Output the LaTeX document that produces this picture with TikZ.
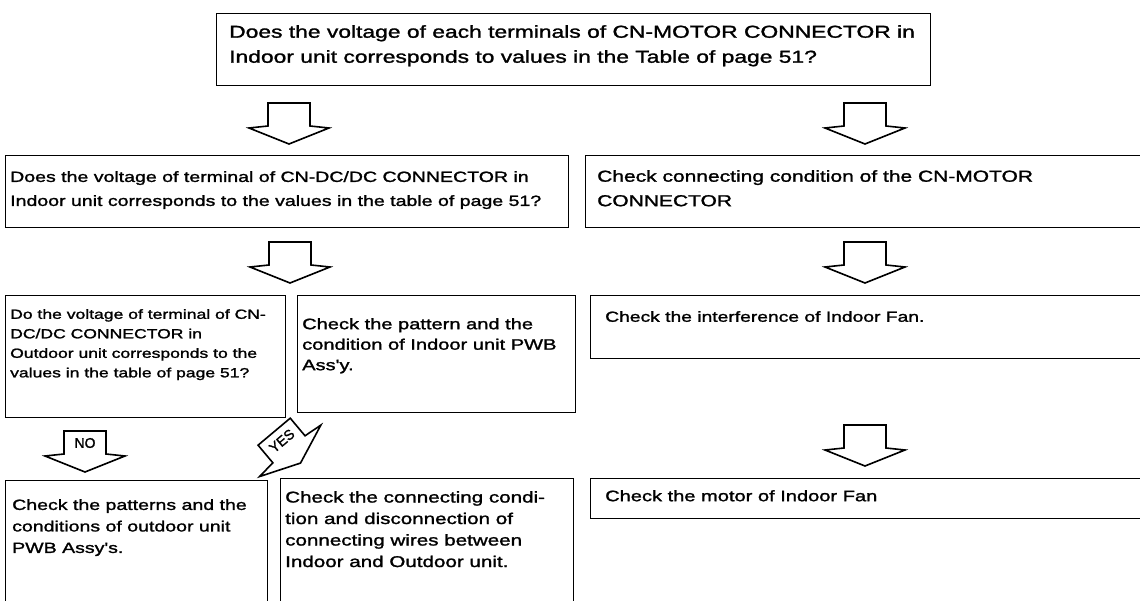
\documentclass[tikz,border=0pt]{standalone}
\usepackage{fontspec}
\setmainfont{Liberation Sans}
\newfontfamily\scanfont[FakeBold=1.5, FakeStretch=1.32]{Liberation Sans}
\newfontfamily\lblfont[FakeBold=1.5]{Liberation Sans}
\newcommand{\blockarrowpath}{(-21,-20) -- (21,-20) -- (21,3) -- (40,5) -- (0,21) -- (-40,5) -- (-21,3) -- cycle}
\begin{document}
\begin{tikzpicture}[x=1pt,y=-1pt,
  frame/.style={draw=black, line width=1.4pt, rectangle, inner sep=0pt, anchor=north west},
  txt/.style={anchor=north west, inner sep=0pt, align=left},
  arrline/.style={draw=black, line width=1.6pt, line join=miter},
  lbl/.style={inner sep=0pt, font={\lblfont\fontsize{14pt}{16pt}\selectfont}}
]
\useasboundingbox (0,0) rectangle (1140,601);
\begin{scope}
\clip (0,0) rectangle (1140,601);
% boxes
\node[frame, minimum width=714pt, minimum height=72pt] (T) at (216,13) {};
\node[frame, minimum width=563pt, minimum height=72pt] (L2) at (5,155) {};
\node[frame, minimum width=570pt, minimum height=72pt] (R2) at (585,155) {};
\node[frame, minimum width=280pt, minimum height=122pt] (L3a) at (5,295) {};
\node[frame, minimum width=278pt, minimum height=117pt] (L3b) at (297,295) {};
\node[frame, minimum width=565pt, minimum height=63pt] (R3) at (590,295) {};
\node[frame, minimum width=262pt, minimum height=140pt] (L4a) at (5,480) {};
\node[frame, minimum width=293pt, minimum height=140pt] (L4b) at (280,478) {};
\node[frame, minimum width=565pt, minimum height=40pt] (R4) at (590,478) {};
% texts
\node[txt, font={\scanfont\fontsize{17.3pt}{25pt}\selectfont}] (Tt) at (229,25)
  {Does the voltage of each terminals of CN-MOTOR CONNECTOR in\\Indoor unit corresponds to values in the Table of page 51?};
\node[txt, font={\scanfont\fontsize{14.8pt}{24pt}\selectfont}] (L2t) at (10,171)
  {Does the voltage of terminal of CN-DC/DC CONNECTOR in\\Indoor unit corresponds to the values in the table of page 51?};
\node[txt, font={\scanfont\fontsize{15.9pt}{24.5pt}\selectfont}] (R2t) at (597,170)
  {Check connecting condition of the CN-MOTOR\\CONNECTOR};
\node[txt, font={\scanfont\fontsize{13.3pt}{19.5pt}\selectfont}] (L3at) at (10,309)
  {Do the voltage of terminal of CN-\\DC/DC CONNECTOR in\\Outdoor unit corresponds to the\\values in the table of page 51?};
\node[txt, font={\scanfont\fontsize{15.2pt}{20.5pt}\selectfont}] (L3bt) at (302,318)
  {Check the pattern and the\\condition of Indoor unit PWB\\Ass'y.};
\node[txt, font={\scanfont\fontsize{14.6pt}{21pt}\selectfont}] (R3t) at (605,311)
  {Check the interference of Indoor Fan.};
\node[txt, font={\scanfont\fontsize{14.8pt}{21.5pt}\selectfont}] (L4at) at (12,499)
  {Check the patterns and the\\conditions of outdoor unit\\PWB Assy's.};
\node[txt, font={\scanfont\fontsize{15.6pt}{21.5pt}\selectfont}] (L4bt) at (285,491)
  {Check the connecting condi-\\tion and disconnection of\\connecting wires between\\Indoor and Outdoor unit.};
\node[txt, font={\scanfont\fontsize{15.2pt}{22pt}\selectfont}] (R4t) at (605,490)
  {Check the motor of Indoor Fan};
% block arrows
\begin{scope}[shift={(289,123)}] \draw[arrline] \blockarrowpath; \end{scope}
\begin{scope}[shift={(865,123)}] \draw[arrline] \blockarrowpath; \end{scope}
\begin{scope}[shift={(290,262)}] \draw[arrline] \blockarrowpath; \end{scope}
\begin{scope}[shift={(865,262)}] \draw[arrline] \blockarrowpath; \end{scope}
\begin{scope}[shift={(865,445)}] \draw[arrline] \blockarrowpath; \end{scope}
\begin{scope}[shift={(85,451)}]
  \draw[arrline] \blockarrowpath;
  \node[lbl] (no) at (0,-8) {NO};
\end{scope}
\begin{scope}[shift={(287,447)}, rotate=40]
  \draw[arrline] \blockarrowpath;
  \node[lbl, transform shape] (yes) at (0,-8) {YES};
\end{scope}
\end{scope}
\end{tikzpicture}
\end{document}
